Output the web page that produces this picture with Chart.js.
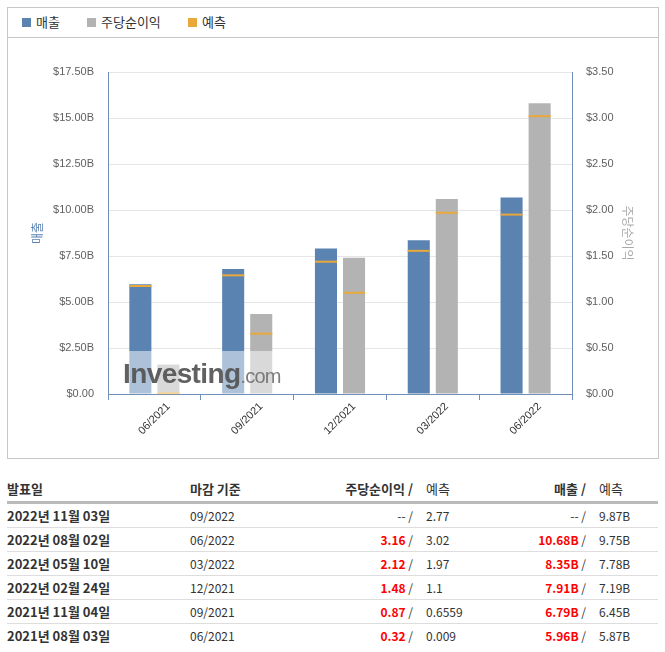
<!DOCTYPE html>
<html>
<head>
<meta charset="utf-8">
<script src="https://cdn.jsdelivr.net/npm/chart.js@4.4.0/dist/chart.umd.min.js"></script>
<style>
  body { margin: 0; background: #fff; font-family: "Liberation Sans", Arial, "Noto Sans CJK KR", sans-serif; }
  #box { position: absolute; left: 7px; top: 7px; width: 650px; height: 450px; border: 1px solid #c8c8c8; }
  #legend { height: 29px; border-bottom: 1px solid #c8c8c8; font-family: "Noto Sans CJK KR", sans-serif; font-size: 13px; color: #333; }
  #legend span { position: absolute; top: 6px; line-height: 16px; }
  #legend i { display: inline-block; width: 9px; height: 9px; margin-right: 5px; vertical-align: 0px; }
  #wrap { position: absolute; left: 0; top: 30px; width: 649px; height: 419px; }
  table { position: absolute; left: 7px; top: 476px; width: 651px; table-layout: fixed; border-collapse: collapse; font-family: "Noto Sans CJK KR", sans-serif; font-size: 12px; color: #333; }
  th { font-weight: bold; font-size: 13px; text-align: left; height: 25px; border-bottom: 3px solid #bbb; padding: 0; }
  th.f { font-weight: normal; }
  td { height: 23px; border-bottom: 1px solid #ddd; padding: 0; }
  tr:last-child td { border-bottom: none; }
  .d { font-weight: bold; font-size: 13px; }
  .r { text-align: right; padding-right: 4px; }
  .f { padding-left: 9px; }
  .red { color: #f00; font-weight: bold; }
</style>
</head>
<body>
<div id="box">
  <div id="legend">
    <span style="left:14px"><i style="background:#5b83b1"></i>매출</span>
    <span style="left:79px"><i style="background:#b3b3b3"></i>주당순이익</span>
    <span style="left:180px"><i style="background:#e9a83a"></i>예측</span>
  </div>
  <div id="wrap"><canvas id="grafico"></canvas></div>
</div>
<table>
  <colgroup><col style="width:183px"><col style="width:120px"><col style="width:107px"><col style="width:88px"><col style="width:85px"><col style="width:68px"></colgroup>
  <thead>
    <tr><th>발표일</th><th>마감 기준</th><th class="r">주당순이익 /</th><th class="f">예측</th><th class="r">매출 /</th><th class="f">예측</th></tr>
  </thead>
  <tbody id="rows"></tbody>
</table>
<script>
const labels = ['06/2021', '09/2021', '12/2021', '03/2022', '06/2022']
const revenue = [5.96, 6.79, 7.91, 8.35, 10.68]
const revenueForecast = [5.87, 6.45, 7.19, 7.78, 9.75]
const eps = [0.32, 0.87, 1.48, 2.12, 3.16]
const epsForecast = [0.009, 0.6559, 1.1, 1.97, 3.02]

const tableDates = ['2022년 11월 03일', '2022년 08월 02일', '2022년 05월 10일', '2022년 02월 24일', '2021년 11월 04일', '2021년 08월 03일']
const tablePeriods = ['09/2022', '06/2022', '03/2022', '12/2021', '09/2021', '06/2021']
const tableEps = ['--', '3.16', '2.12', '1.48', '0.87', '0.32']
const tableEpsForecast = ['2.77', '3.02', '1.97', '1.1', '0.6559', '0.009']
const tableRevenue = ['--', '10.68B', '8.35B', '7.91B', '6.79B', '5.96B']
const tableRevenueForecast = ['9.87B', '9.75B', '7.78B', '7.19B', '6.45B', '5.87B']

const blue = '#5b83b1'
const gray = '#b3b3b3'
const orange = '#e9a83a'
const axisBlue = '#6d8fb8'

const renderTable = () => {
	const body = document.getElementById('rows')
	tableDates.forEach((d, i) => {
		const cls = tableEps[i] !== '--' ? 'red' : ''
		const tr = document.createElement('tr')
		tr.innerHTML = `<td class="d">${d}</td><td>${tablePeriods[i]}</td>` +
			`<td class="r"><span class="${cls}">${tableEps[i]}</span> /</td><td class="f">${tableEpsForecast[i]}</td>` +
			`<td class="r"><span class="${cls}">${tableRevenue[i]}</span> /</td><td class="f">${tableRevenueForecast[i]}</td>`
		body.appendChild(tr)
	})
}

// forecast markers on top of each bar + watermark
const forecastPlugin = {
	id: 'forecast',
	afterDatasetsDraw(chart) {
		const ctx = chart.ctx
		const sets = [[0, revenueForecast, 'y'], [1, epsForecast, 'y1']]
		ctx.save()
		for (const [idx, values, axis] of sets) {
			const meta = chart.getDatasetMeta(idx)
			const scale = chart.scales[axis]
			meta.data.forEach((bar, i) => {
				const y = scale.getPixelForValue(values[i])
				ctx.strokeStyle = orange
				ctx.lineWidth = 2
				ctx.beginPath()
				ctx.moveTo(bar.x - bar.width / 2, y)
				ctx.lineTo(bar.x + bar.width / 2, y)
				ctx.stroke()
			})
		}
		// watermark
		const area = chart.chartArea
		const x0 = area.left + 10
		ctx.fillStyle = 'rgba(255,255,255,0.5)'
		ctx.fillRect(x0, area.bottom - 43, 168, 43)
		ctx.fillStyle = 'rgba(80,80,80,0.9)'
		ctx.font = 'bold 28px "Liberation Sans", Arial'
		ctx.letterSpacing = '-0.6px'
		ctx.textBaseline = 'alphabetic'
		ctx.fillText('Investing', x0 + 5, area.bottom - 11)
		const w = ctx.measureText('Investing').width
		ctx.fillStyle = 'rgba(110,110,110,0.9)'
		ctx.font = '20px "Liberation Sans", Arial'
		ctx.letterSpacing = '-0.8px'
		ctx.fillText('.com', x0 + 5 + w, area.bottom - 11)
		ctx.restore()
	}
}

const renderChart = () => {
	const data = {
		labels,
		datasets: [{
			label: '매출',
			data: revenue,
			backgroundColor: blue,
			yAxisID: 'y',
			categoryPercentage: 0.605,
			barPercentage: 0.786
		}, {
			label: '주당순이익',
			data: eps,
			backgroundColor: gray,
			yAxisID: 'y1',
			categoryPercentage: 0.605,
			barPercentage: 0.786
		}]
	}

	const tickFont = { family: '"Liberation Sans", Arial', size: 11 }

	const config = {
		type: 'bar',
		data,
		plugins: [forecastPlugin],
		options: {
			responsive: true,
			maintainAspectRatio: false,
			animation: false,
			layout: { padding: { top: 34, left: 0, right: 0, bottom: 0 } },
			plugins: {
				legend: { display: false },
				tooltip: { enabled: false }
			},
			scales: {
				x: {
					grid: { offset: true, drawOnChartArea: false, drawTicks: true, tickLength: 6, color: axisBlue },
					border: { color: axisBlue },
					ticks: { color: '#333', font: tickFont, minRotation: 45, maxRotation: 45, labelOffset: 14, padding: 0 },
					afterFit: scale => { scale.height = 63 }
				},
				y: {
					position: 'left',
					min: 0,
					max: 17.5,
					ticks: {
						stepSize: 2.5,
						color: '#606060',
						font: tickFont,
						padding: 14,
						callback: v => v === 0 ? '$0.00' : '$' + v.toFixed(2) + 'B'
					},
					grid: { color: '#e6e6e6', drawTicks: false },
					border: { color: axisBlue },
					title: { display: true, text: '매출', color: blue, font: { family: '"Noto Sans CJK KR"', size: 12 }, padding: { top: 22, bottom: 0 } },
					afterFit: scale => { scale.width = 100 }
				},
				y1: {
					position: 'right',
					min: 0,
					max: 3.5,
					ticks: {
						stepSize: 0.5,
						color: '#606060',
						font: tickFont,
						padding: 14,
						callback: v => '$' + v.toFixed(2)
					},
					grid: { drawOnChartArea: false, drawTicks: false },
					border: { color: axisBlue },
					title: { display: true, text: '주당순이익', color: '#aaa', font: { family: '"Noto Sans CJK KR"', size: 12 }, padding: { top: 22, bottom: 0 } },
					afterFit: scale => { scale.width = 85 }
				}
			}
		}
	}

	new Chart(document.getElementById('grafico'), config)
}

renderTable()
renderChart()
</script>
</body>
</html>
